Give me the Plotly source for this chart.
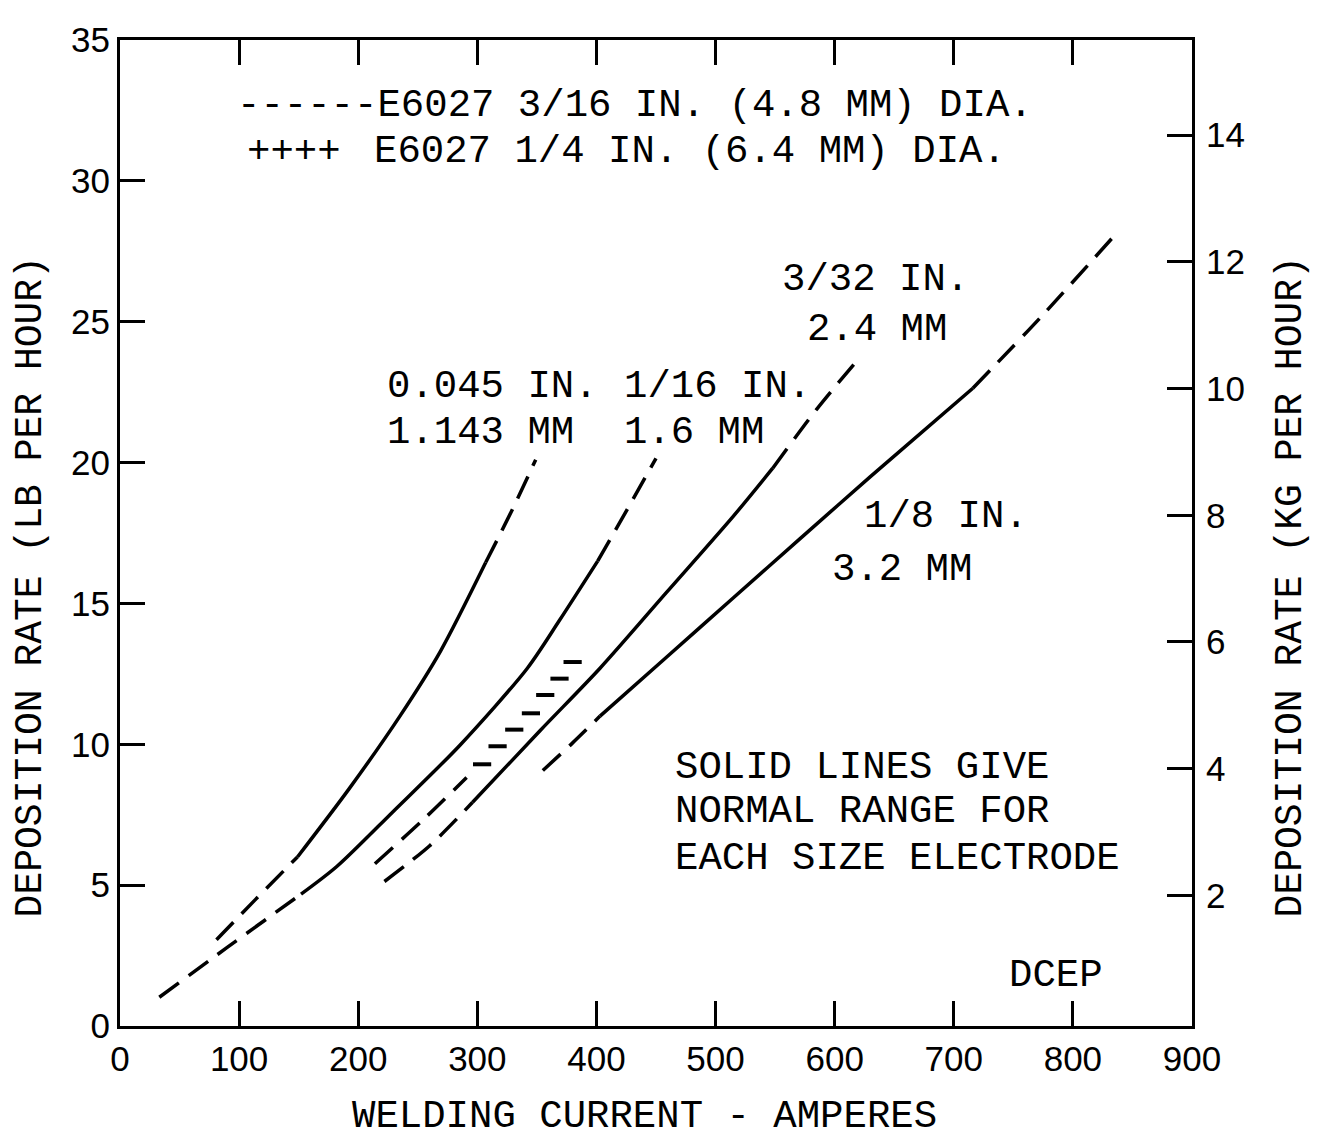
import plotly.graph_objects as go

# welding current (A) vs deposition rate (lb/h)

# 0.045 in (1.143 mm)
amps_045_low = [81, 113, 149]
rate_045_low = [3.06, 4.46, 6.0]
amps_045 = [149, 192, 235, 269, 307]
rate_045 = [6.0, 8.4, 11.0, 13.3, 16.45]
amps_045_high = [307, 329, 349]
rate_045_high = [16.45, 18.3, 20.1]

# 1/16 in (1.6 mm)
amps_116_low = [33, 90, 152]
rate_116_low = [1.02, 2.79, 4.68]
amps_116 = [152, 182, 229, 285, 342, 369, 401]
rate_116 = [4.68, 5.66, 7.6, 9.95, 12.7, 14.4, 16.5]
amps_116_high = [401, 426, 450]
rate_116_high = [16.5, 18.35, 20.15]

# 3/32 in (2.4 mm)
amps_332_low = [222, 260, 296]
rate_332_low = [5.13, 6.4, 7.94]
amps_332 = [296, 353, 403, 459, 515, 548]
rate_332 = [7.94, 10.5, 12.7, 15.4, 18.1, 19.8]
amps_332_high = [548, 585, 620]
rate_332_high = [19.8, 21.9, 23.68]

# 1/8 in (3.2 mm)
amps_18_low = [355, 380, 403]
rate_18_low = [9.07, 10.05, 11.0]
amps_18 = [403, 459, 515, 571, 630, 716]
rate_18 = [11.0, 13.1, 15.2, 17.3, 19.5, 22.64]
amps_18_high = [716, 773, 833]
rate_18_high = [22.64, 25.16, 27.97]

# E6027 3/16 in (dashed) and 1/4 in (plus marks)
amps_e6027_316 = [214, 254, 291]
rate_e6027_316 = [5.76, 7.3, 8.82]
amps_e6027_14 = [304, 317, 331, 345, 357, 369, 380]
rate_e6027_14 = [9.29, 9.93, 10.52, 11.1, 11.75, 12.33, 12.92]

x_ticks = list(range(0, 1000, 100))
lb_ticks = list(range(0, 40, 5))
kg_ticks = [2, 4, 6, 8, 10, 12, 14]

MONO = "Liberation Mono, Courier New, monospace"
SANS = "Liberation Sans, Arial, sans-serif"
DASH = "24px,12px"

fig = go.Figure()


def add_line(x, y, dash="solid"):
    fig.add_trace(go.Scatter(x=x, y=y, mode="lines", line_shape="spline",
                             line=dict(color="black", width=3.5, dash=dash,
                                       smoothing=0.8),
                             showlegend=False, hoverinfo="skip"))


for lo, mid, hi in [
    ((amps_045_low, rate_045_low), (amps_045, rate_045), (amps_045_high, rate_045_high)),
    ((amps_116_low, rate_116_low), (amps_116, rate_116), (amps_116_high, rate_116_high)),
    ((amps_332_low, rate_332_low), (amps_332, rate_332), (amps_332_high, rate_332_high)),
    ((amps_18_low, rate_18_low), (amps_18, rate_18), (amps_18_high, rate_18_high)),
]:
    add_line(*lo, dash=DASH)
    add_line(*mid)
    add_line(*hi, dash=DASH)

add_line(amps_e6027_316, rate_e6027_316, dash=DASH)
fig.add_trace(go.Scatter(x=amps_e6027_14, y=rate_e6027_14, mode="markers",
                         marker=dict(symbol="line-ew", size=13,
                                     line=dict(color="black", width=4)),
                         showlegend=False, hoverinfo="skip"))

# dummy trace so the kg axis gets drawn
fig.add_trace(go.Scatter(x=[0], y=[0], yaxis="y2", mode="markers",
                         marker=dict(opacity=0), showlegend=False, hoverinfo="skip"))

# text on the chart
labels = [
    ("------E6027 3/16 IN. (4.8 MM) DIA.", 96.6, 32.64),
    ("E6027 1/4 IN. (6.4 MM) DIA.", 211.6, 31.03),
    ("0.045 IN.", 222.5, 22.70),
    ("1/16 IN.", 421.5, 22.70),
    ("1.143 MM", 222.5, 21.05),
    ("1.6 MM", 421.5, 21.05),
    ("3/32 IN.", 554, 26.49),
    ("2.4 MM", 575, 24.70),
    ("1/8 IN.", 623, 18.06),
    ("3.2 MM", 596, 16.20),
    ("SOLID LINES GIVE", 464, 9.17),
    ("NORMAL RANGE FOR", 464, 7.59),
    ("EACH SIZE ELECTRODE", 464, 5.94),
    ("DCEP", 745, 1.79),
]
for txt, x, y in labels:
    fig.add_annotation(x=x, y=y, text=txt, showarrow=False, xanchor="left",
                       yanchor="middle", font=dict(family=MONO, size=39, color="black"))
fig.add_annotation(x=146, y=31.03, text="++++", showarrow=False, xanchor="center",
                   yanchor="middle", font=dict(family=MONO, size=39, color="black"))

fig.add_annotation(x=0.4897, y=-0.0924, xref="paper", yref="paper",
                   xanchor="center", yanchor="middle",
                   text="WELDING CURRENT - AMPERES", showarrow=False,
                   font=dict(family=MONO, size=39, color="black"))
fig.add_annotation(x=-0.084, y=0.4458, xref="paper", yref="paper", textangle=-90,
                   xanchor="center", yanchor="middle",
                   text="DEPOSITION RATE (LB PER HOUR)", showarrow=False,
                   font=dict(family=MONO, size=38, color="black"))
fig.add_annotation(x=1.0914, y=0.4458, xref="paper", yref="paper", textangle=-90,
                   xanchor="center", yanchor="middle",
                   text="DEPOSITION RATE (KG PER HOUR)", showarrow=False,
                   font=dict(family=MONO, size=38, color="black"))

# page body has an 8px margin, so the figure is made 8px smaller
fig.update_layout(
    width=1316, height=1135,
    margin=dict(l=112, r=132, t=22, b=117),
    paper_bgcolor="white", plot_bgcolor="white",
    xaxis=dict(range=[0, 900], tickvals=x_ticks, ticks="inside", ticklen=25,
               tickwidth=3, tickcolor="black", showline=True, linewidth=3,
               linecolor="black", mirror="ticks", showgrid=False, zeroline=False,
               tickfont=dict(family=SANS, size=35, color="black")),
    yaxis=dict(range=[0, 35], tickvals=lb_ticks, ticks="inside", ticklen=25,
               tickwidth=3, tickcolor="black", showline=True, linewidth=3,
               linecolor="black", mirror=True, showgrid=False, zeroline=False,
               tickfont=dict(family=SANS, size=35, color="black")),
    yaxis2=dict(range=[-0.06, 15.5], tickvals=kg_ticks, overlaying="y",
                side="right", ticks="inside", ticklen=25, tickwidth=3,
                tickcolor="black", showline=True, linewidth=3, linecolor="black",
                showgrid=False, zeroline=False, ticklabelstandoff=4,
                tickfont=dict(family=SANS, size=35, color="black")),
)

fig.write_html("out.html")
